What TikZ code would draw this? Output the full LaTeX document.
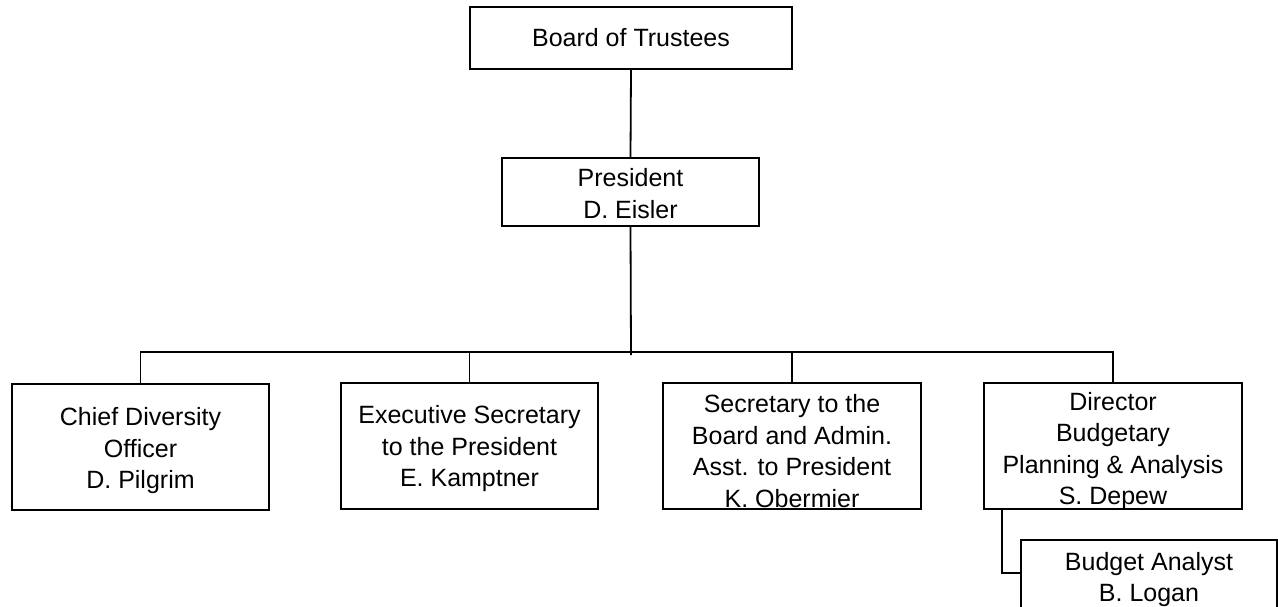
\documentclass[tikz,border=0pt]{standalone}
\usepackage{fontspec}
\setmainfont{Liberation Sans}
\begin{document}
\begin{tikzpicture}[x=1pt,y=-1pt,
  box/.style={draw=black, line width=2pt, rectangle, inner sep=0pt,
    minimum width=257pt, minimum height=126pt},
  lbl/.style={align=center, inner sep=0pt, font=\fontsize{25}{31.5}\selectfont},
  conn/.style={draw=black, line width=1.8pt}]
\useasboundingbox (0,0) rectangle (1278,606);
\fill[white] (0,0) rectangle (1278,606);
\node[box, minimum width=322pt, minimum height=62pt] (board) at (631,38) {};
\node[box, minimum height=68pt] (pres) at (630.5,192) {};
\node[box] (cdo) at (140.5,447) {};
\node[box] (exec) at (469.5,446) {};
\node[box, minimum width=258pt] (sec) at (792,446) {};
\node[box, minimum width=258pt] (dir) at (1113,446) {};
\node[box, minimum width=256pt, minimum height=72pt] (ba) at (1149,576) {};
\node[lbl] (tboard) at (board.center) {Board of Trustees};
\node[lbl, yshift=-1.5pt] (tpres) at (pres.center) {President\\D. Eisler};
\node[lbl, yshift=-4pt] (tcdo) at (cdo.center) {Chief Diversity\\Officer\\D. Pilgrim};
\node[lbl, yshift=-3pt] (texec) at (exec.center) {Executive Secretary\\to the President\\E. Kamptner};
\node[lbl, yshift=-5pt] (tsec) at (sec.center) {Secretary to the\\Board and Admin.\\Asst. to President\\K. Obermier};
\node[lbl, yshift=-5pt] (tdir) at (dir.center) {Director\\Budgetary\\Planning \& Analysis\\S. Depew};
\node[lbl, yshift=-3.5pt] (tba) at (ba.center) {Budget Analyst\\B. Logan};
\coordinate (bar) at (631,352);
\coordinate (barend) at (631,355);
\draw[conn] (board.south) -- (pres.north);
\draw[conn] (pres.south) -- (barend);
\draw[conn] (cdo.north) |- (bar) -| (dir.north);
\draw[conn] (exec.north) -- (exec.north |- bar);
\draw[conn] (sec.north) -- (sec.north |- bar);
\draw[conn] (dir.south -| 1002,0) |- (ba.west |- 0,573);
\end{tikzpicture}
\end{document}
